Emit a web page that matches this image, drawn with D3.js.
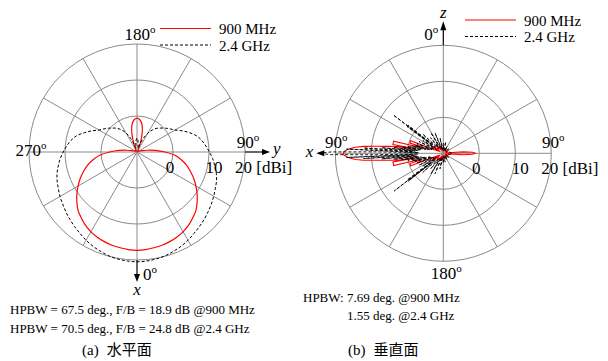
<!DOCTYPE html>
<html>
<head>
<meta charset="utf-8">
<script src="https://cdn.jsdelivr.net/npm/d3@7"></script>
<style>
  body { margin: 0; background: #fff; }
  text { font-family: "Liberation Serif", "Times New Roman", serif; fill: #000; }
</style>
</head>
<body>
<svg id="chart" width="608" height="361"></svg>
<script>
// ---- data ----
// horizontal plane, angle from +x (0 deg, bottom) towards +y (90 deg, right)
const hAngles = [
  0, 5, 10, 15, 20, 25, 30, 35, 40, 45, 50, 55,
  60, 65, 70, 75, 80, 85, 90, 95, 100, 105, 110, 115,
  120, 125, 130, 135, 140, 145, 150, 155, 160, 165, 170, 175,
  180, 185, 190, 195, 200, 205, 210, 215, 220, 225, 230, 235,
  240, 245, 250, 255, 260, 265, 270, 275, 280, 285, 290, 295,
  300, 305, 310, 315, 320, 325, 330, 335, 340, 345, 350, 355
];
const hGain900 = [
  17.3, 17.2, 17.0, 16.8, 16.5, 16.1, 15.6, 14.9, 14.0, 13.1, 11.8, 10.4,
  8.9, 7.4, 5.8, 4.3, 2.5, 0.6, -2.2, -5.0, -7.2, -8.6, -9.2, -9.4,
  -9.4, -9.7, -9.7, -9.7, -9.7, -9.7, -9.4, -8.9, -7.2, -4.4, -2.1, -1.0,
  -0.6, -1.0, -2.1, -4.4, -7.2, -8.9, -9.4, -9.7, -9.7, -9.7, -9.7, -9.7,
  -9.4, -9.4, -9.2, -8.6, -7.2, -5.0, -2.4, 0.4, 2.4, 4.2, 5.8, 7.4,
  8.9, 10.4, 11.8, 13.1, 14.0, 14.9, 15.6, 16.1, 16.5, 16.8, 17.0, 17.2
];
const hGain24 = [
  20.5, 20.4, 20.2, 19.9, 19.4, 18.9, 18.3, 17.6, 17.0, 16.4, 15.8, 15.2,
  14.6, 14.0, 13.5, 12.8, 11.9, 11.1, 10.1, 9.2, 8.3, 7.2, 5.6, 3.9,
  2.2, 1.2, 0.3, -0.6, -1.4, -2.5, -3.9, -5.8, -7.8, -8.9, -8.1, -6.9,
  -6.1, -6.9, -8.1, -8.9, -7.8, -5.8, -3.9, -2.5, -1.4, -0.6, 0.3, 1.2,
  2.2, 3.9, 5.6, 7.4, 8.6, 9.6, 10.5, 11.4, 12.2, 13.0, 13.6, 14.1,
  14.7, 15.2, 15.8, 16.4, 17.0, 17.6, 18.3, 18.9, 19.4, 19.9, 20.2, 20.4
];

// vertical plane, [angle from +z (0 deg, top) towards +x (90 deg, left), gain dBi]
const vPattern900 = [
  [0, -8.3], [10, -9.2], [20, -7.8], [30, -8.9], [40, -7.2], [50, -8.3], [58, -6.1], [64, -8.9],
  [68.5, -6.7], [69, -0.3], [73, -0.3], [73.5, -3.9], [75.8, -2.2], [76.2, 4.2], [80.2, 4.2], [80.6, -2.2],
  [81, 0], [81.5, 2.5], [82, 3.6], [83, 5.8], [84, 8.6], [85, 12.2], [86, 14.4], [87, 15.8], [88, 16.9], [89, 17.6],
  [90, 17.8],
  [91, 17.6], [92, 16.9], [93, 15.8], [94, 14.4], [95, 12.2], [96, 8.6], [97, 5.8], [98, 3.6], [98.5, 2.5], [99, 0],
  [99.4, -2.2], [99.8, 4.2], [103.8, 4.2], [104.2, -2.2], [106.5, -3.9], [107, -0.3], [111, -0.3], [111.5, -6.7],
  [116, -8.9], [122, -6.1], [130, -8.3], [140, -7.2], [150, -8.9], [160, -7.8], [170, -9.2], [180, -8.3],
  [195, -9.2], [210, -8.6], [225, -9.2], [240, -8.6], [255, -9.2], [264, -8.6], [266, -4.4], [268, -1.9],
  [270, -1.1], [272, -1.9], [274, -4.4], [276, -8.6], [285, -9.2], [300, -8.6], [315, -9.2], [330, -8.3], [345, -9.2]
];
const vPattern24 = [
  [0, -7.2], [6, -8.9], [12, -5.6], [17, -8.9], [22, -3.9], [27, -8.6], [31, -3.3], [35, -8.3],
  [39, -4.4], [43, -7.8], [47, -2.2], [50, -7.2],
  [51.5, 2.5], [52, -5.8], [52.5, 7.5], [53, -5.8], [53.5, 2.5], [55, -7.2],
  [58, -3.3], [61, -7.8], [64, -2.5], [67, -7.2], [70, -2.2], [72, -6.7], [74, -1.9], [75.3, -6.1],
  [76.5, -1.1], [77.8, -5.0], [79, 0], [80.1, -3.9], [81.2, 1.7], [82.2, -3.3], [83.2, 3.9], [84, -2.8],
  [84.8, 7.2], [85.5, -2.2], [86.2, 12.2], [86.9, -1.7], [87.5, 16.9], [88.4, -3.1], [88.8, 9.4], [89.3, 21.1],
  [90, 24.7],
  [90.7, 21.1], [91.2, 9.4], [91.6, -3.1], [92.5, 16.9], [93.1, -1.7], [93.8, 12.2], [94.5, -2.2], [95.2, 7.2],
  [96, -2.8], [96.8, 3.9], [97.8, -3.3], [98.8, 1.7], [99.9, -3.9], [101, 0], [102.2, -5.0], [103.5, -1.1],
  [104.7, -6.1], [106, -1.9], [108, -6.7], [110, -2.2], [113, -7.2], [116, -2.5], [119, -7.8], [122, -3.3],
  [125, -7.2], [126.5, 2.5], [127, -5.8], [127.5, 7.2], [128, -5.8], [128.5, 2.5], [130, -7.2],
  [133, -2.2], [137, -7.8], [141, -4.4], [145, -8.3], [149, -3.3], [153, -8.6], [158, -3.9], [163, -8.9],
  [168, -5.6], [174, -8.9], [180, -7.2],
  [186, -9.2], [192, -7.5], [200, -9.2], [210, -7.8], [220, -9.2], [232, -8.0], [245, -9.2], [258, -8.3],
  [270, -7.5], [282, -8.3], [295, -9.2], [308, -8.0], [320, -9.2], [330, -7.8], [340, -9.2], [348, -6.7], [354, -9.2]
];

const ringValues = [0, 10, 20];
const ringLabels = ["0", "10", "20 [dBi]"];
const spokeAngles = [0, 30, 60, 90, 120, 150, 180, 210, 240, 270, 300, 330];
const seriesNames = ["900 MHz", "2.4 GHz"];

// ---- setup ----
const svg = d3.select("#chart");
const rad = Math.PI / 180;
const rScale = d3.scaleLinear().domain([-10, 20]).range([0, 108]);
const rOf = v => rScale(Math.max(v, -10));
const gridColor = "#8a8a8a";
const RED = "#ff0000";

function drawGrid(g) {
  g.selectAll("line.spoke").data(spokeAngles).join("line")
    .attr("class", "spoke")
    .attr("x1", 0).attr("y1", 0)
    .attr("x2", d => rScale(20) * Math.sin(d * rad))
    .attr("y2", d => -rScale(20) * Math.cos(d * rad))
    .attr("stroke", gridColor).attr("stroke-width", 1);
  g.selectAll("circle.ring").data(ringValues).join("circle")
    .attr("class", "ring")
    .attr("r", d => rScale(d))
    .attr("fill", "none")
    .attr("stroke", gridColor).attr("stroke-width", 1);
  // ring value labels under the right half of the horizontal spoke
  const dx = [-3, 5, -10];
  g.selectAll("text.ringlab").data(ringValues).join("text")
    .attr("class", "ringlab")
    .attr("x", (d, i) => rScale(d) + dx[i])
    .attr("y", 20.5)
    .attr("text-anchor", (d, i) => i === 2 ? "start" : "middle")
    .attr("font-size", 17)
    .text((d, i) => ringLabels[i]);
}

function degLabel(g, x, y, txt, anchor) {
  const t = g.append("text")
    .attr("x", x).attr("y", y)
    .attr("text-anchor", anchor)
    .attr("font-size", 17);
  t.append("tspan").text(txt);
  t.append("tspan").attr("font-size", 11).attr("dy", -7).text("o");
}

function axisLabel(g, x, y, txt, anchor) {
  g.append("text")
    .attr("x", x).attr("y", y)
    .attr("text-anchor", anchor)
    .attr("font-size", 17)
    .attr("font-style", "italic")
    .text(txt);
}

function legend(x, y) {
  const g = svg.append("g").attr("transform", `translate(${x},${y})`);
  g.append("line").attr("x1", 0).attr("x2", 51).attr("y1", 0).attr("y2", 0)
    .attr("stroke", RED).attr("stroke-width", 1.2);
  g.append("line").attr("x1", 0).attr("x2", 51).attr("y1", 16.5).attr("y2", 16.5)
    .attr("stroke", "#000").attr("stroke-width", 1).attr("stroke-dasharray", "3,2");
  g.selectAll("text").data(seriesNames).join("text")
    .attr("x", 59).attr("y", (d, i) => 5.5 + i * 16.5)
    .attr("font-size", 15)
    .text(d => d);
}

// ---- (a) horizontal plane ----
const gA = svg.append("g").attr("transform", "translate(137,152)");
drawGrid(gA);

// axes arrows: x down, y right
gA.append("line").attr("x1", 0).attr("y1", rScale(20)).attr("x2", 0).attr("y2", 125)
  .attr("stroke", "#000").attr("stroke-width", 1.2);
gA.append("path").attr("d", "M0,130 L-3,122 L3,122 Z").attr("fill", "#000");
gA.append("line").attr("x1", rScale(20)).attr("y1", 0).attr("x2", 127).attr("y2", 0)
  .attr("stroke", "#000").attr("stroke-width", 1.2);
gA.append("path").attr("d", "M133,0 L125,-3 L125,3 Z").attr("fill", "#000");

const hLine = d3.lineRadial()
  .angle((d, i) => Math.PI - hAngles[i] * rad)
  .radius(d => rOf(d))
  .curve(d3.curveCatmullRomClosed.alpha(0.5));

gA.append("path").attr("d", hLine(hGain900))
  .attr("fill", "none").attr("stroke", RED).attr("stroke-width", 1.2);
gA.append("path").attr("d", hLine(hGain24))
  .attr("fill", "none").attr("stroke", "#000").attr("stroke-width", 1)
  .attr("stroke-dasharray", "3,2");

degLabel(gA, 3, -112, "180", "middle");
degLabel(gA, -106, 4, "270", "middle");
degLabel(gA, 111, -4, "90", "middle");
degLabel(gA, 6, 128, "0", "start");
axisLabel(gA, 136, 2, "y", "start");
axisLabel(gA, 0, 143, "x", "middle");

legend(160, 28.5);

// ---- (b) vertical plane ----
const gB = svg.append("g").attr("transform", "translate(443.3,153.3)");
drawGrid(gB);

gB.append("line").attr("x1", 0).attr("y1", -rScale(20)).attr("x2", 0).attr("y2", -124)
  .attr("stroke", "#000").attr("stroke-width", 1.2);
gB.append("path").attr("d", "M0,-132 L-3,-123 L3,-123 Z").attr("fill", "#000");
gB.append("path").attr("d", "M-127,0 L-119,-3 L-119,3 Z").attr("fill", "#000");

const vLine = d3.lineRadial()
  .angle(d => -d[0] * rad)
  .radius(d => rOf(d[1]))
  .curve(d3.curveLinearClosed);

gB.append("path").attr("d", vLine(vPattern900))
  .attr("fill", "none").attr("stroke", RED).attr("stroke-width", 1.1);
gB.append("path").attr("d", vLine(vPattern24))
  .attr("fill", "none").attr("stroke", "#000").attr("stroke-width", 0.9)
  .attr("stroke-dasharray", "3,2");

degLabel(gB, -5, -113, "0", "end");
degLabel(gB, -107, -5, "90", "middle");
degLabel(gB, 110, -5, "90", "middle");
degLabel(gB, 3, 126, "180", "middle");
axisLabel(gB, 0, -135, "z", "middle");
axisLabel(gB, -130, 4, "x", "end");

legend(465, 20);

// ---- captions ----
const capLeft = [
  "HPBW = 67.5 deg., F/B = 18.9 dB @900 MHz",
  "HPBW = 70.5 deg., F/B = 24.8 dB @2.4 GHz"
];
svg.selectAll("text.capL").data(capLeft).join("text")
  .attr("class", "capL")
  .attr("x", 10).attr("y", (d, i) => 314 + i * 19)
  .attr("font-size", 13)
  .text(d => d);

svg.append("text").attr("x", 303).attr("y", 302).attr("font-size", 13)
  .text("HPBW: 7.69 deg. @900 MHz");
svg.append("text").attr("x", 347).attr("y", 320).attr("font-size", 13)
  .text("1.55 deg. @2.4 GHz");

const titles = [["(a)", "水平面", 82], ["(b)", "垂直面", 348]];
titles.forEach(t => {
  const tx = svg.append("text").attr("x", t[2]).attr("y", 355).attr("font-size", 15);
  tx.append("tspan").text(t[0]);
  tx.append("tspan").attr("dx", 8)
    .style("font-family", '"Noto Sans CJK JP", sans-serif')
    .attr("font-size", 15)
    .text(t[1]);
});
</script>
</body>
</html>
